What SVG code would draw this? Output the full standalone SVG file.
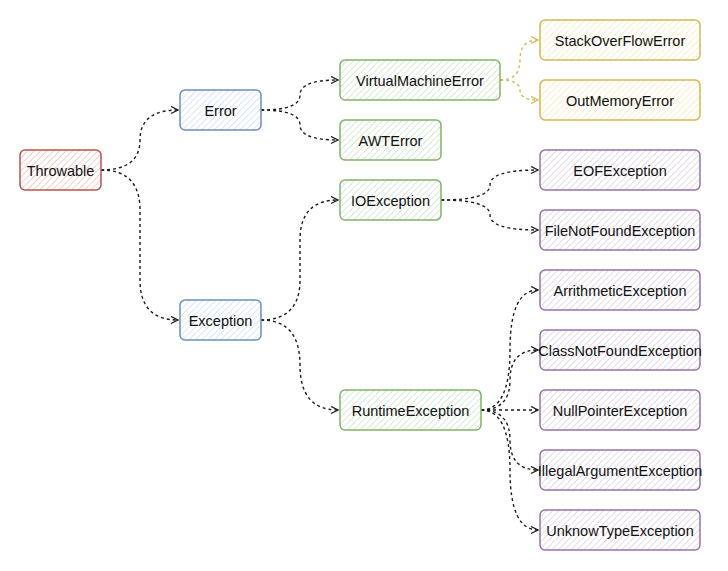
<svg xmlns="http://www.w3.org/2000/svg" width="728" height="571" viewBox="0 0 728 571">
<defs>
<pattern id="hRed" width="4.5" height="4.5" patternUnits="userSpaceOnUse" patternTransform="rotate(45)"><line x1="0" y1="0" x2="0" y2="4.5" stroke="#efb4b1" stroke-width="1.3"/></pattern>
<pattern id="hBlue" width="4.5" height="4.5" patternUnits="userSpaceOnUse" patternTransform="rotate(45)"><line x1="0" y1="0" x2="0" y2="4.5" stroke="#c6daf5" stroke-width="1.3"/></pattern>
<pattern id="hGreen" width="4.5" height="4.5" patternUnits="userSpaceOnUse" patternTransform="rotate(45)"><line x1="0" y1="0" x2="0" y2="4.5" stroke="#c3dfbf" stroke-width="1.3"/></pattern>
<pattern id="hYellow" width="4.5" height="4.5" patternUnits="userSpaceOnUse" patternTransform="rotate(45)"><line x1="0" y1="0" x2="0" y2="4.5" stroke="#f8e6ad" stroke-width="1.3"/></pattern>
<pattern id="hPurple" width="4.5" height="4.5" patternUnits="userSpaceOnUse" patternTransform="rotate(45)"><line x1="0" y1="0" x2="0" y2="4.5" stroke="#d8c6e1" stroke-width="1.3"/></pattern>
<marker id="arr" markerWidth="10" markerHeight="10" refX="8" refY="4" orient="auto" markerUnits="userSpaceOnUse"><path d="M1,0.5 L8,4 L1,7.5" fill="none" stroke="#1a1a1a" stroke-width="1.3"/></marker>
<marker id="arrY" markerWidth="10" markerHeight="10" refX="8" refY="4" orient="auto" markerUnits="userSpaceOnUse"><path d="M1,0.5 L8,4 L1,7.5" fill="none" stroke="#d6b656" stroke-width="1.3"/></marker>
</defs>
<style>
text{font-family:"Liberation Sans",Arial,sans-serif;font-size:14.5px;fill:#111111;text-anchor:middle;dominant-baseline:central}
.box{stroke-width:1.5}
.red{fill:url(#hRed);stroke:#b85450}
.blue{fill:url(#hBlue);stroke:#6c8ebf}
.green{fill:url(#hGreen);stroke:#82b366}
.yellow{fill:url(#hYellow);stroke:#d6b656}
.purple{fill:url(#hPurple);stroke:#9673a6}
.edge{fill:none;stroke:#1a1a1a;stroke-width:1.4;stroke-dasharray:3 3;marker-end:url(#arr)}
.edgeY{fill:none;stroke:#d6b656;stroke-width:1.4;stroke-dasharray:3 3;marker-end:url(#arrY)}
</style>
<rect width="728" height="571" fill="#ffffff"/>
<g id="connectors">
<path class="edge" d="M101,170 Q140,170 140,140 Q140,110 178,110"/>
<path class="edge" d="M101,170 Q140,170 140,210 L140,280 Q140,320 178,320"/>
<path class="edge" d="M261,110 Q300,110 300,95 Q300,80 338,80"/>
<path class="edge" d="M261,110 Q300,110 300,125 Q300,140 338,140"/>
<path class="edgeY" d="M500,80 Q520,80 520,60 Q520,40 538,40"/>
<path class="edgeY" d="M500,80 Q520,80 520,90 Q520,100 538,100"/>
<path class="edge" d="M261,320 Q300,320 300,280 L300,240 Q300,200 338,200"/>
<path class="edge" d="M261,320 Q300,320 300,365 Q300,410 338,410"/>
<path class="edge" d="M441,200 Q490,200 490,185 Q490,170 538,170"/>
<path class="edge" d="M441,200 Q490,200 490,215 Q490,230 538,230"/>
<path class="edge" d="M481,410 Q510,410 510,350 Q510,290 538,290"/>
<path class="edge" d="M481,410 Q510,410 510,380 Q510,350 538,350"/>
<path class="edge" d="M481,410 L538,410"/>
<path class="edge" d="M481,410 Q510,410 510,440 Q510,470 538,470"/>
<path class="edge" d="M481,410 Q510,410 510,470 Q510,530 538,530"/>
</g>
<g id="throwable"><rect class="box red" x="20" y="150" width="81" height="40" rx="5"/><text x="60.5" y="171">Throwable</text></g>
<g id="error"><rect class="box blue" x="180" y="90" width="81" height="40" rx="5"/><text x="220.5" y="111">Error</text></g>
<g id="exception"><rect class="box blue" x="180" y="300" width="81" height="40" rx="5"/><text x="220.5" y="321">Exception</text></g>
<g id="vme"><rect class="box green" x="340" y="60" width="160" height="40" rx="5"/><text x="420" y="81">VirtualMachineError</text></g>
<g id="awterror"><rect class="box green" x="340" y="120" width="101" height="40" rx="5"/><text x="390.5" y="141">AWTError</text></g>
<g id="ioexception"><rect class="box green" x="340" y="180" width="101" height="40" rx="5"/><text x="390.5" y="201">IOException</text></g>
<g id="runtimeexception"><rect class="box green" x="340" y="390" width="141" height="40" rx="5"/><text x="410.5" y="411">RuntimeException</text></g>
<g id="stackoverflow"><rect class="box yellow" x="540" y="20" width="160" height="40" rx="5"/><text x="620" y="41">StackOverFlowError</text></g>
<g id="outmemory"><rect class="box yellow" x="540" y="80" width="160" height="40" rx="5"/><text x="620" y="101">OutMemoryError</text></g>
<g id="eof"><rect class="box purple" x="540" y="150" width="160" height="40" rx="5"/><text x="620" y="171">EOFException</text></g>
<g id="filenotfound"><rect class="box purple" x="540" y="210" width="160" height="40" rx="5"/><text x="620" y="231">FileNotFoundException</text></g>
<g id="arithmetic"><rect class="box purple" x="540" y="270" width="160" height="40" rx="5"/><text x="620" y="291">ArrithmeticException</text></g>
<g id="classnotfound"><rect class="box purple" x="540" y="330" width="160" height="40" rx="5"/><text x="620" y="351">ClassNotFoundException</text></g>
<g id="nullpointer"><rect class="box purple" x="540" y="390" width="160" height="40" rx="5"/><text x="620" y="411">NullPointerException</text></g>
<g id="illegalargument"><rect class="box purple" x="540" y="450" width="160" height="40" rx="5"/><text x="620" y="471">IllegalArgumentException</text></g>
<g id="unknowtype"><rect class="box purple" x="540" y="510" width="160" height="40" rx="5"/><text x="620" y="531">UnknowTypeException</text></g>
</svg>
